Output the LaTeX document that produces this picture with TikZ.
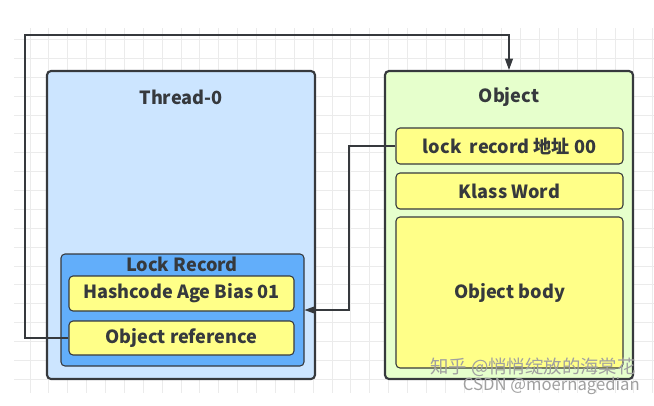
\documentclass[tikz,border=0pt]{standalone}
\usepackage{fontspec}
\setmainfont{Noto Sans CJK SC}
\usetikzlibrary{arrows.meta}
\definecolor{gridc}{HTML}{EBEBEB}
\definecolor{edge}{HTML}{36393D}
\definecolor{threadfill}{HTML}{CCE5FF}
\definecolor{lrfill}{HTML}{62AEFA}
\definecolor{yel}{HTML}{FFFF88}
\definecolor{objfill}{HTML}{E6FFCC}
\definecolor{wm}{HTML}{A0A0A0}
\tikzset{
  bigbox/.style={draw=edge, line width=1.6pt, rounded corners=3pt, inner sep=0pt},
  field/.style={draw=edge, line width=0.8pt, fill=yel, rounded corners=3pt, inner sep=0pt,
    font=\fontsize{13.6pt}{15pt}\selectfont\bfseries, text=edge},
  title/.style={font=\fontsize{13.6pt}{15pt}\selectfont\bfseries, text=edge, inner sep=0pt},
  conn/.style={draw=edge, line width=0.8pt},
  arr/.style={conn, -{Triangle[length=8.5pt,width=6pt]}},
  wmark/.style={text=wm, inner sep=0pt}
}
\begin{document}
\begin{tikzpicture}[x=0.75pt,y=-0.75pt]
\useasboundingbox (0,0) rectangle (654,405);
% grid
\foreach \i in {0,...,33} { \draw[gridc, line width=0.6pt] ({30+18.87*\i},28) -- ({30+18.87*\i},393); }
\foreach \j in {0,...,18} { \draw[gridc, line width=0.6pt] (14,{39.5+18.87*\j}) -- (654,{39.5+18.87*\j}); }
% boxes
\node[bigbox, fill=threadfill, minimum width=201pt, minimum height=231pt] (thread) at (181,225) {};
\node[title] (threadt) at (181,97) {Thread-0};
\node[bigbox, fill=objfill, minimum width=186pt, minimum height=231pt] (obj) at (509,225) {};
\node[title] (objt) at (509,97) {Object};
\node[draw=edge, line width=0.8pt, fill=lrfill, rounded corners=3pt, minimum width=182.25pt, minimum height=84pt, inner sep=0pt] (lr) at (182.5,310) {};
\node[title] (lrt) at (182,264) {Lock Record};
\node[field, minimum width=168.75pt, minimum height=26.25pt] (hash) at (181.5,293.5) {Hashcode Age Bias 01};
\node[field, minimum width=168.75pt, minimum height=25.5pt] (oref) at (181.5,338) {Object reference};
\node[field, minimum width=170.25pt, minimum height=27pt] (lockrec) at (509.5,146) {lock\ \ record 地址 00};
\node[field, minimum width=170.25pt, minimum height=27pt] (klass) at (509.5,191) {Klass Word};
\node[field, minimum width=170.25pt, minimum height=113.25pt] (body) at (509.5,292.5) {Object body};
% connectors
\coordinate (c1) at (25,35);
\coordinate (c2) at (349,146);
\draw[arr] (oref.west) -| (c1) -| (obj.north);
\draw[arr] (lockrec.west) -- (c2) |- (lr.east);
% watermark
\node[wmark, anchor=east, font=\fontsize{13.8pt}{15pt}\selectfont] (wm1) at (636,367) {知乎\ @悄悄绽放的海棠花};
\node[wmark, anchor=east, font=\fontsize{12.5pt}{14pt}\selectfont] (wm2) at (640,386) {CSDN @moernagedian};
\end{tikzpicture}
\end{document}
